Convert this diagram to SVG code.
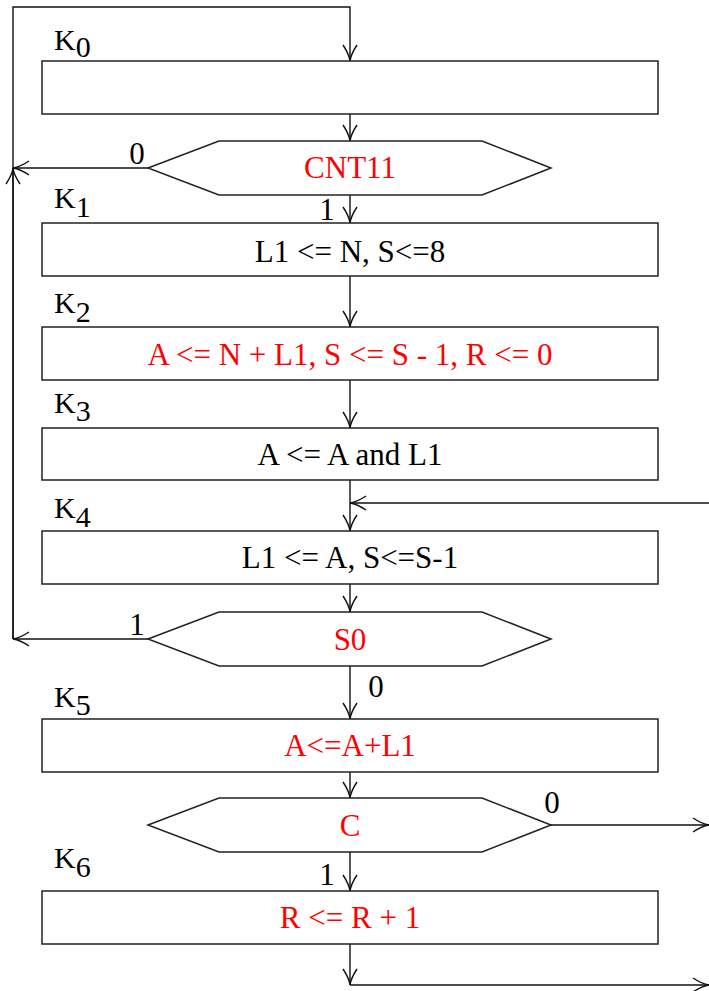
<svg xmlns="http://www.w3.org/2000/svg" width="709" height="991" viewBox="0 0 709 991" font-family="'Liberation Serif', 'Times New Roman', 'DejaVu Serif', serif">
<style>
.box{fill:#fff;stroke:#222;stroke-width:1.5}
.ln{fill:none;stroke:#111;stroke-width:1.4}
text{font-family:'Liberation Serif','Times New Roman','DejaVu Serif',serif}
.t{font-size:31px;fill:#000}
.c{text-anchor:middle}
.r{fill:#ff0000}
.k{font-size:30px;fill:#000}
</style>
<defs>
<marker id="a" markerUnits="userSpaceOnUse" markerWidth="20" markerHeight="20" refX="0" refY="0" viewBox="-18 -10 20 20" orient="auto" overflow="visible">
<path d="M-16,-7 Q-7,-1 0,0 Q-7,1 -16,7" fill="none" stroke="#111" stroke-width="1.4"/>
</marker>
</defs>
<g id="connectors">
<path class="ln" d="M13,639 V7 H350 V61" marker-end="url(#a)"/>
<path class="ln" d="M13,639 V168" marker-end="url(#a)"/>
<path class="ln" d="M350,114 V141" marker-end="url(#a)"/>
<path class="ln" d="M148,168 H13" marker-end="url(#a)"/>
<path class="ln" d="M350,195 V223" marker-end="url(#a)"/>
<path class="ln" d="M350,276 V327" marker-end="url(#a)"/>
<path class="ln" d="M350,380 V428" marker-end="url(#a)"/>
<path class="ln" d="M350,480 V531" marker-end="url(#a)"/>
<path class="ln" d="M709,503 H350" marker-end="url(#a)"/>
<path class="ln" d="M350,584 V612" marker-end="url(#a)"/>
<path class="ln" d="M148,639 H13" marker-end="url(#a)"/>
<path class="ln" d="M350,666 V719" marker-end="url(#a)"/>
<path class="ln" d="M350,772 V798" marker-end="url(#a)"/>
<path class="ln" d="M551,825 H709" marker-end="url(#a)"/>
<path class="ln" d="M350,852 V891" marker-end="url(#a)"/>
<path class="ln" d="M350,944 V985" marker-end="url(#a)"/>
<path class="ln" d="M350,985 H709" marker-end="url(#a)"/>
<text class="t c" x="137" y="164" font-family="'Liberation Serif', serif">0</text>
<text class="t c" x="327" y="220" font-family="'Liberation Serif', serif">1</text>
<text class="t c" x="137" y="635" font-family="'Liberation Serif', serif">1</text>
<text class="t c" x="376" y="697" font-family="'Liberation Serif', serif">0</text>
<text class="t c" x="552" y="813" font-family="'Liberation Serif', serif">0</text>
<text class="t c" x="327" y="885" font-family="'Liberation Serif', serif">1</text>
</g>
<g id="K0">
<text class="k" x="54" y="50" font-family="'Liberation Serif', serif">K<tspan dy="7">0</tspan></text>
<rect class="box" x="42" y="61" width="616" height="53"/>
</g>
<g id="CNT11">
<polygon class="box" points="148,168 219,141 482,141 551,168 482,195 219,195"/>
<text class="t c r" x="350" y="178" font-family="'Liberation Serif', serif">CNT11</text>
</g>
<g id="K1">
<text class="k" x="54" y="208" font-family="'Liberation Serif', serif">K<tspan dy="9">1</tspan></text>
<rect class="box" x="42" y="223" width="616" height="53"/>
<text class="t c" x="350" y="262" font-family="'Liberation Serif', serif">L1 &lt;= N, S&lt;=8</text>
</g>
<g id="K2">
<text class="k" x="54" y="313" font-family="'Liberation Serif', serif">K<tspan dy="9">2</tspan></text>
<rect class="box" x="42" y="327" width="616" height="53"/>
<text class="t c r" x="350" y="365" font-family="'Liberation Serif', serif">A &lt;= N + L1, S &lt;= S - 1, R &lt;= 0</text>
</g>
<g id="K3">
<text class="k" x="54" y="413" font-family="'Liberation Serif', serif">K<tspan dy="8">3</tspan></text>
<rect class="box" x="42" y="428" width="616" height="52"/>
<text class="t c" x="350" y="465" font-family="'Liberation Serif', serif">A &lt;= A and L1</text>
</g>
<g id="K4">
<text class="k" x="54" y="518" font-family="'Liberation Serif', serif">K<tspan dy="9">4</tspan></text>
<rect class="box" x="42" y="531" width="616" height="53"/>
<text class="t c" x="350" y="568" font-family="'Liberation Serif', serif">L1 &lt;= A, S&lt;=S-1</text>
</g>
<g id="S0">
<polygon class="box" points="148,639 219,612 482,612 551,639 482,666 219,666"/>
<text class="t c r" x="350" y="650" font-family="'Liberation Serif', serif">S0</text>
</g>
<g id="K5">
<text class="k" x="54" y="707" font-family="'Liberation Serif', serif">K<tspan dy="8">5</tspan></text>
<rect class="box" x="42" y="719" width="616" height="53"/>
<text class="t c r" x="350" y="756" font-family="'Liberation Serif', serif">A&lt;=A+L1</text>
</g>
<g id="C">
<polygon class="box" points="148,825 219,798 482,798 551,825 482,852 219,852"/>
<text class="t c r" x="350" y="836" font-family="'Liberation Serif', serif">C</text>
</g>
<g id="K6">
<text class="k" x="54" y="868" font-family="'Liberation Serif', serif">K<tspan dy="9">6</tspan></text>
<rect class="box" x="42" y="891" width="616" height="53"/>
<text class="t c r" x="350" y="928" font-family="'Liberation Serif', serif">R &lt;= R + 1</text>
</g>
</svg>
